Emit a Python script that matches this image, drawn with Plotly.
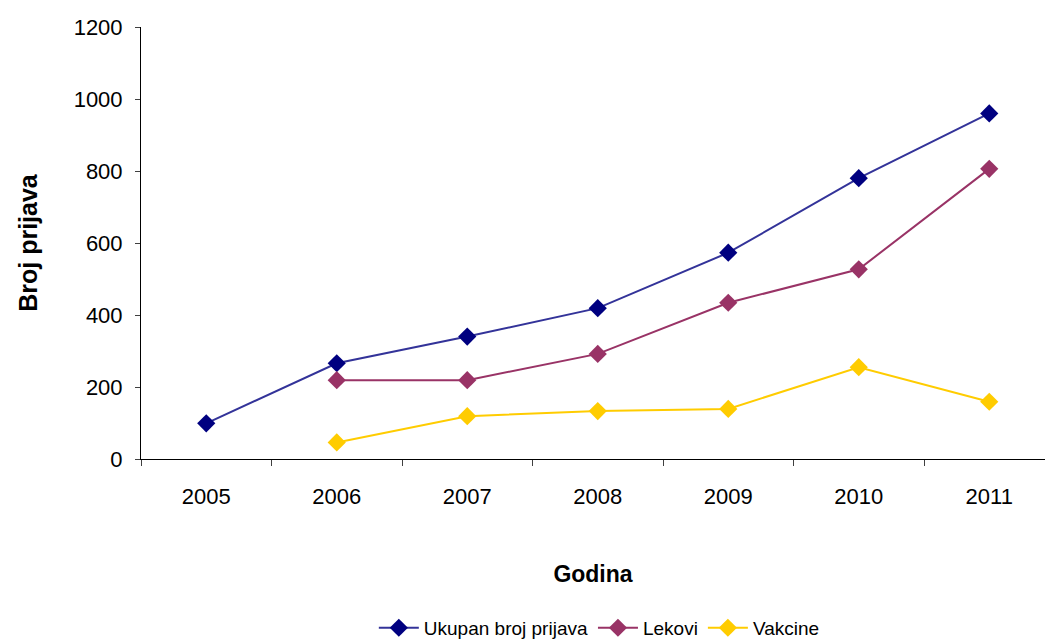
import plotly.graph_objects as go

years = [2005, 2006, 2007, 2008, 2009, 2010, 2011]
year_labels = ["2005", "2006", "2007", "2008", "2009", "2010", "2011"]
ukupan = [99, 266, 340, 419, 573, 780, 960]
lekovi = [None, 219, 219, 292, 434, 527, 806]
vakcine = [None, 46, 119, 133, 139, 255, 159]

series = [
    ("Ukupan broj prijava", ukupan, "#333399", "#000080"),
    ("Lekovi", lekovi, "#993366", "#993366"),
    ("Vakcine", vakcine, "#FFCC00", "#FFCC00"),
]

fig = go.Figure()
for name, vals, lc, mc in series:
    fig.add_trace(go.Scatter(
        x=years, y=vals, name=name, mode="lines+markers",
        line=dict(color=lc, width=2),
        marker=dict(symbol="diamond", size=14, color=mc),
        connectgaps=False,
    ))

font = "Liberation Sans, Arial, sans-serif"
fig.update_layout(
    width=1045, height=640,
    margin=dict(l=141, r=0, t=27, b=181, autoexpand=False),
    plot_bgcolor="white", paper_bgcolor="white",
    font=dict(family=font, color="black", size=22),
    showlegend=True,
    legend=dict(orientation="h", x=0.507, xanchor="center", y=-0.391, yanchor="middle",
                font=dict(size=19), itemwidth=40, tracegroupgap=0),
    xaxis=dict(
        range=[2004.5, 2004.5 + 904 / 130.5],
        tickvals=years, ticktext=year_labels, ticks="",
        showline=True, linecolor="black", linewidth=1,
        showgrid=False, zeroline=False, automargin=False,
        ticklabelstandoff=18,
        minor=dict(tickvals=[2004.5 + i for i in range(8)], ticks="outside",
                   ticklen=6, tickcolor="#404040", tickwidth=1, showgrid=False),
        title=dict(text="<b>Godina</b>", font=dict(size=23), standoff=57),
        fixedrange=True,
    ),
    yaxis=dict(
        range=[0, 1200], tickvals=[0, 200, 400, 600, 800, 1000, 1200],
        ticks="outside", ticklen=5, tickcolor="#404040",
        showline=True, linecolor="black", linewidth=1,
        showgrid=False, zeroline=False, automargin=False,
        ticklabelstandoff=8,
        title=dict(text="<b>Broj prijava</b>", font=dict(size=25), standoff=28),
    ),
)

fig.write_html("out.html")
